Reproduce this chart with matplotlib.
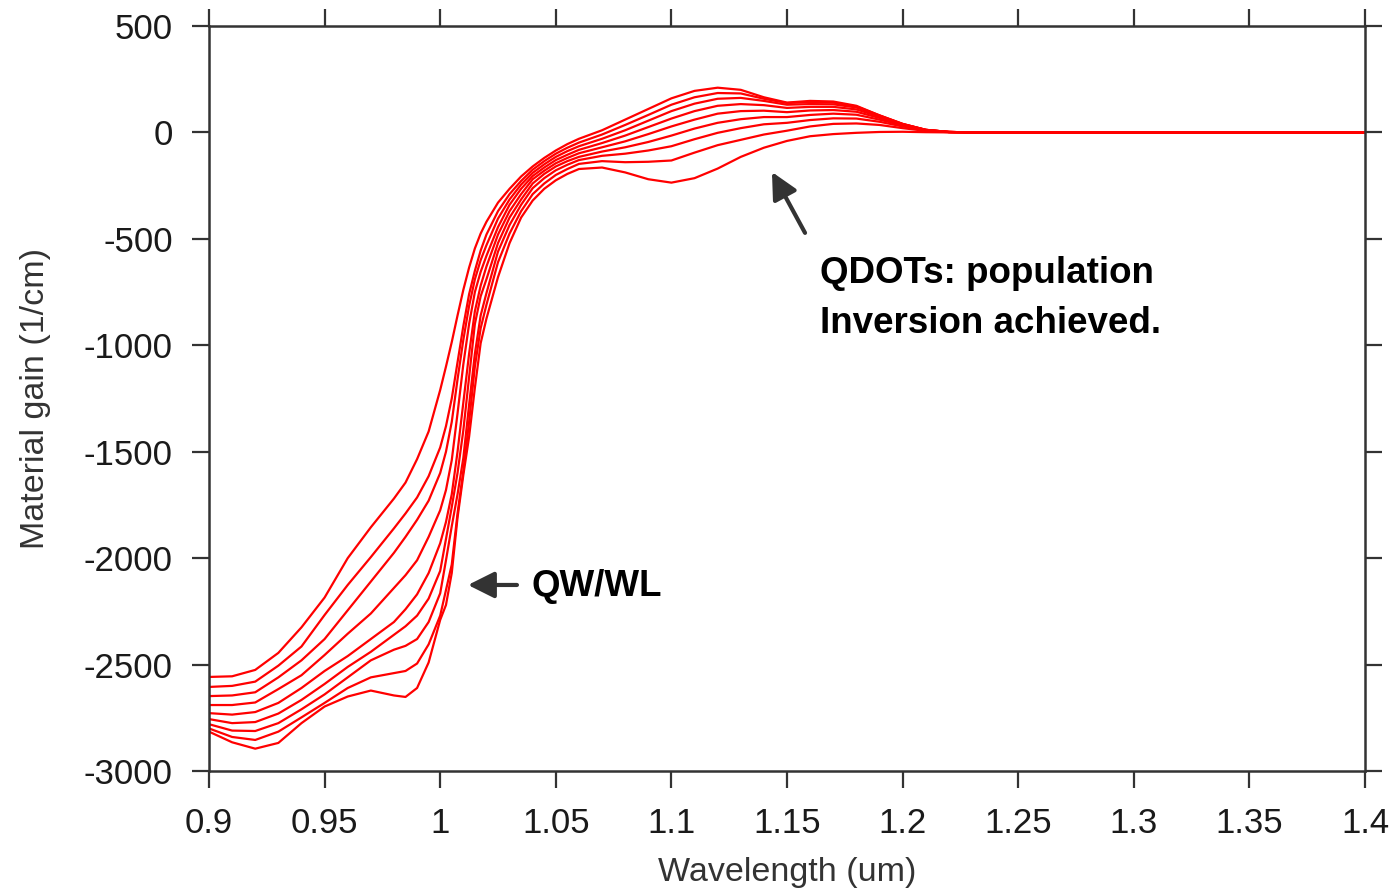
import matplotlib.pyplot as plt

plt.rcParams['font.family'] = ['Liberation Sans', 'DejaVu Sans']

# wavelength grid (um)
wavelength = [0.900, 0.910, 0.920, 0.930, 0.940, 0.950, 0.960, 0.970, 0.980, 0.985,
              0.990, 0.995, 1.000, 1.0025, 1.005, 1.0075, 1.010, 1.0125, 1.015, 1.0175,
              1.020, 1.025, 1.030, 1.035, 1.040, 1.045, 1.050, 1.055, 1.060, 1.070,
              1.080, 1.090, 1.100, 1.110, 1.120, 1.130, 1.140, 1.150, 1.160, 1.170,
              1.180, 1.190, 1.200, 1.210, 1.220, 1.230, 1.400]

# material gain (1/cm), one list per injection level (highest first)
gain_1 = [-2558, -2555, -2525, -2445, -2325, -2185, -2000, -1855, -1720, -1645,
          -1535, -1405, -1210, -1100, -985, -860, -740, -635, -545, -475,
          -420, -330, -265, -207, -160, -120, -85, -55, -30, 10,
          60, 110, 160, 195, 210, 200, 165, 140, 148, 145,
          125, 80, 40, 12, 2, 0, 0]
gain_2 = [-2605, -2600, -2580, -2505, -2415, -2267, -2126, -1995, -1860, -1790,
          -1715, -1615, -1480, -1380, -1250, -1080, -910, -760, -650, -555,
          -480, -370, -290, -228, -175, -135, -100, -72, -48, -10,
          35, 82, 130, 165, 185, 183, 158, 138, 142, 140,
          122, 80, 40, 12, 2, 0, 0]
gain_3 = [-2648, -2645, -2630, -2560, -2480, -2380, -2245, -2110, -1975, -1900,
          -1820, -1730, -1600, -1500, -1360, -1160, -975, -815, -690, -600,
          -530, -405, -315, -245, -190, -150, -115, -88, -65, -30,
          10, 55, 100, 135, 158, 162, 148, 130, 133, 132,
          117, 78, 39, 12, 2, 0, 0]
gain_4 = [-2690, -2690, -2678, -2615, -2550, -2455, -2355, -2260, -2140, -2080,
          -2010, -1900, -1775, -1680, -1540, -1320, -1090, -900, -750, -655,
          -580, -445, -340, -265, -205, -165, -130, -105, -82, -50,
          -15, 25, 65, 100, 125, 133, 128, 115, 120, 120,
          108, 74, 38, 12, 2, 0, 0]
gain_5 = [-2728, -2735, -2723, -2680, -2610, -2530, -2460, -2380, -2300, -2240,
          -2170, -2070, -1930, -1830, -1700, -1500, -1270, -1040, -840, -720,
          -630, -480, -370, -290, -220, -180, -145, -120, -98, -70,
          -42, -8, 28, 60, 88, 100, 102, 95, 103, 105,
          97, 68, 36, 11, 2, 0, 0]
gain_6 = [-2756, -2775, -2770, -2730, -2666, -2591, -2511, -2440, -2360, -2320,
          -2270, -2190, -2060, -1910, -1760, -1600, -1400, -1150, -900, -770,
          -690, -520, -400, -315, -240, -195, -160, -135, -115, -90,
          -70, -45, -15, 18, 45, 62, 72, 72, 82, 88,
          83, 60, 33, 10, 2, 0, 0]
gain_7 = [-2780, -2810, -2812, -2775, -2710, -2640, -2560, -2480, -2430, -2412,
          -2380, -2300, -2165, -2010, -1850, -1700, -1530, -1280, -1040, -860,
          -755, -560, -435, -340, -262, -215, -178, -152, -130, -110,
          -100, -85, -65, -32, -2, 20, 38, 45, 58, 66,
          65, 50, 28, 9, 2, 0, 0]
gain_8 = [-2800, -2840, -2854, -2815, -2748, -2680, -2610, -2560, -2540, -2530,
          -2495, -2405, -2270, -2150, -2030, -1790, -1590, -1360, -1100, -920,
          -810, -610, -475, -370, -290, -240, -200, -172, -148, -135,
          -140, -138, -132, -95, -60, -35, -10, 8, 28, 40,
          42, 35, 20, 7, 1, 0, 0]
gain_9 = [-2815, -2865, -2895, -2868, -2775, -2697, -2650, -2622, -2645, -2652,
          -2610, -2490, -2290, -2220, -2070, -1810, -1610, -1430, -1200, -990,
          -875, -680, -520, -400, -320, -265, -225, -195, -172, -165,
          -188, -220, -236, -215, -170, -115, -72, -40, -18, -8,
          -2, 2, 3, 1, 0, 0, 0]

x_ticks = [0.9, 0.95, 1.0, 1.05, 1.1, 1.15, 1.2, 1.25, 1.3, 1.35, 1.4]
x_labels = ['0.9', '0.95', '1', '1.05', '1.1', '1.15', '1.2', '1.25', '1.3', '1.35', '1.4']
y_ticks = [-3000, -2500, -2000, -1500, -1000, -500, 0, 500]
y_labels = ['-3000', '-2500', '-2000', '-1500', '-1000', '-500', '0', '500']

frame = '#333333'

fig = plt.figure(figsize=(13.97, 8.89), dpi=100)
ax = fig.add_axes([0.1496, 0.1327, 0.8275, 0.8381])

for g in [gain_1, gain_2, gain_3, gain_4, gain_5, gain_6, gain_7, gain_8, gain_9]:
    ax.plot(wavelength, g, color='#ff0000', lw=1.6)

ax.set_xlim(0.9, 1.4)
ax.set_ylim(-3000, 500)
ax.set_xticks(x_ticks)
ax.set_xticklabels(x_labels)
ax.set_yticks(y_ticks)
ax.set_yticklabels(y_labels)
ax.tick_params(direction='out', length=12, width=1.6, top=True, right=True,
               labelsize=25, pad=14, color=frame, labelcolor='#1a1a1a')
for s in ax.spines.values():
    s.set_linewidth(1.8)
    s.set_color(frame)

ax.set_xlabel('Wavelength (um)', fontsize=24.5, color='#333333', labelpad=12)
ax.set_ylabel('Material gain (1/cm)', fontsize=24.5, color='#333333', labelpad=24)

arrow = dict(arrowstyle='-|>', color=frame, lw=3, mutation_scale=40, shrinkA=0, shrinkB=0)
ax.annotate('', xy=(1.1435, -186), xytext=(1.1578, -472), arrowprops=arrow)
ax.annotate('', xy=(1.0120, -2126), xytext=(1.0332, -2126), arrowprops=arrow)

note_font = dict(fontsize=26.5, fontweight='bold', color='black')
ax.text(1.1643, -707, 'QDOTs: population', va='baseline', **note_font)
ax.text(1.1643, -942, 'Inversion achieved.', va='baseline', **note_font)
ax.text(1.0397, -2135, 'QW/WL', va='center', **note_font)

fig.savefig('out.png', dpi=100)
